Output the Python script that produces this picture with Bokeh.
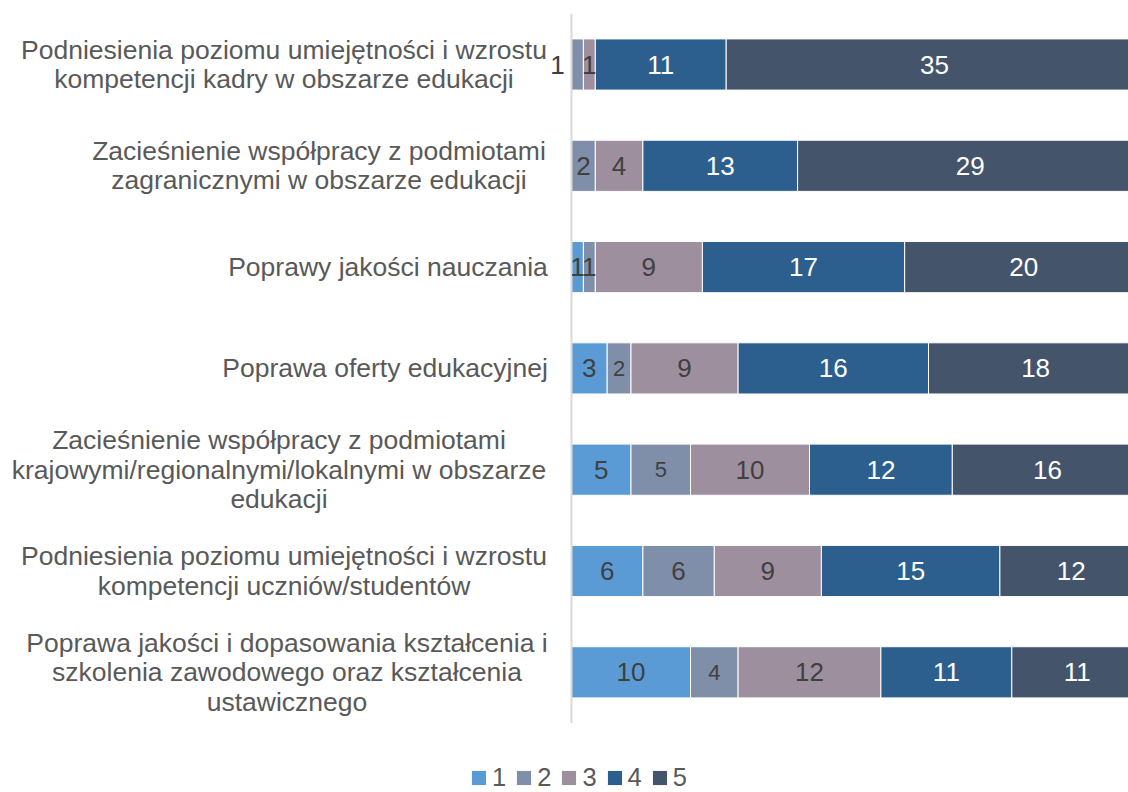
from bokeh.plotting import figure
from bokeh.models import ColumnDataSource, Range1d
from bokeh.core.properties import value
from bokeh.embed import file_html
from bokeh.resources import INLINE

# ---- data ----
categories = [
    "Podniesienia poziomu umiejętności i wzrostu\nkompetencji kadry w obszarze edukacji",
    "Zacieśnienie współpracy z podmiotami\nzagranicznymi w obszarze edukacji",
    "Poprawy jakości nauczania",
    "Poprawa oferty edukacyjnej",
    "Zacieśnienie współpracy z podmiotami\nkrajowymi/regionalnymi/lokalnymi w obszarze\nedukacji",
    "Podniesienia poziomu umiejętności i wzrostu\nkompetencji uczniów/studentów",
    "Poprawa jakości i dopasowania kształcenia i\nszkolenia zawodowego oraz kształcenia\nustawicznego",
]
series_names = ["1", "2", "3", "4", "5"]
s1 = [0, 0, 1, 3, 5, 6, 10]
s2 = [1, 2, 1, 2, 5, 6, 4]
s3 = [1, 4, 9, 9, 10, 9, 12]
s4 = [11, 13, 17, 16, 12, 15, 11]
s5 = [35, 29, 20, 18, 16, 12, 11]

# ---- style / layout ----
colors = ["#5b9bd5", "#7f8fa9", "#9e8f9e", "#2c5f8d", "#44546a"]
label_colors = ["#404040", "#404040", "#404040", "#ffffff", "#ffffff"]
cat_block_width = [527, 457, 319, 325, 537, 527, 521]   # px, measured label widths
FONT = "Liberation Sans"

W, H = 1128, 792
px_per_unit = 11.9
axis_px = 571            # x=0 position inside frame
row_top_px = 64          # first row center from frame top
row_step = 101.3

x_start = -axis_px / px_per_unit
x_end = (W - axis_px) / px_per_unit
y_top = -row_top_px / row_step
y_bottom = y_top + H / row_step

p = figure(width=W, height=H, output_backend="svg", toolbar_location=None,
           x_range=Range1d(x_start, x_end), y_range=Range1d(y_bottom, y_top),
           x_axis_type=None, y_axis_type=None,
           min_border=0, min_border_left=0, min_border_right=0,
           min_border_top=0, min_border_bottom=0)
p.outline_line_color = None
p.xgrid.visible = False
p.ygrid.visible = False
p.background_fill_color = "white"
p.border_fill_color = "white"

ys = list(range(len(categories)))
data = dict(y=ys, s1=s1, s2=s2, s3=s3, s4=s4, s5=s5)
src = ColumnDataSource(data)
stackers = ["s1", "s2", "s3", "s4", "s5"]
p.hbar_stack(stackers, y="y", height=0.505, color=colors, source=src,
             line_color="white", line_width=1,
             legend_label=series_names)

# vertical axis line
p.segment(x0=[0], y0=[-0.5], x1=[0], y1=[len(categories) - 0.5],
          line_color="#d9d9d9", line_width=2)

# category labels (centered lines, block right edge 24px left of axis)
p.text(x=[0] * len(categories), y=ys, text=categories,
       x_offset=[-(24 + w / 2) for w in cat_block_width],
       text_align="center", text_baseline="middle",
       text_font=value(FONT), text_font_size="26.5px", text_color="#595959",
       text_line_height=0.98)

# data labels
all_series = [s1, s2, s3, s4, s5]
lx, ly, lt, lc, lsz, loff = [], [], [], [], [], []
small = {(1, 3), (1, 4), (1, 6)}     # (series, row) labels rendered smaller
for r in range(len(categories)):
    left = 0
    for k, ser in enumerate(all_series):
        v = ser[r]
        if v > 0:
            lx.append(left + v / 2)
            ly.append(r)
            lt.append(str(v))
            lc.append(label_colors[k])
            lsz.append("22px" if (k, r) in small else "26px")
            loff.append(-20 if (k == 1 and r == 0) else 0)
        left += v
lab = ColumnDataSource(dict(x=lx, y=ly, text=lt, color=lc, size=lsz, off=loff))
p.text(x="x", y="y", text="text", source=lab, x_offset="off",
       text_color="color", text_font_size="size", text_font=value(FONT),
       text_align="center", text_baseline="middle")

# legend
lg = p.legend[0]
lg.orientation = "horizontal"
lg.location = (469, 0)
lg.border_line_color = None
lg.background_fill_alpha = 0
lg.padding = 0
lg.margin = 0
lg.spacing = 8
lg.glyph_width = 19
lg.glyph_height = 19
lg.label_standoff = 4
lg.label_width = 10
lg.label_height = 24
lg.label_text_font = FONT
lg.label_text_font_size = "25.5px"
lg.label_text_color = "#595959"

open("out.html", "w").write(file_html(p, INLINE))
